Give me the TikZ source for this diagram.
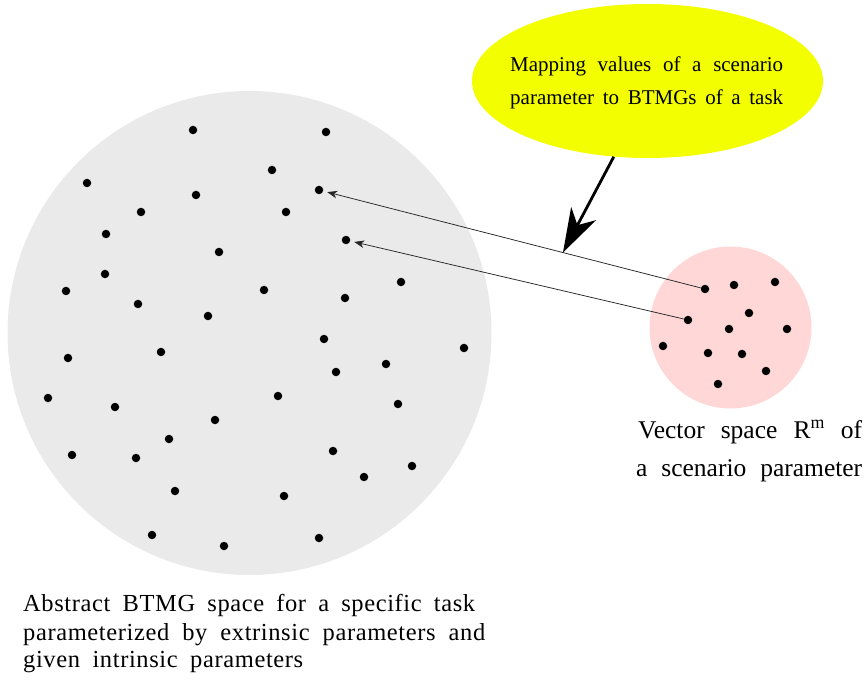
\documentclass[tikz,border=0pt]{standalone}
\usepackage{fontspec}
\setmainfont{Liberation Serif}
\usetikzlibrary{shapes.geometric,arrows.meta}
\definecolor{spacegray}{RGB}{234,234,234}
\definecolor{vecpink}{RGB}{255,215,215}
\definecolor{noteyellow}{RGB}{243,255,0}
\begin{document}
\begin{tikzpicture}[x=1pt,y=-1pt,
  dot/.style={circle, fill=black, inner sep=0pt, minimum size=8.5pt},
  region/.style={circle, inner sep=0pt, draw=none},
  maparrow/.style={-{Stealth[length=10pt,width=7.5pt,inset=3pt]}, line width=0.75pt,
    draw=black!85, shorten >=4pt},
  bigarrow/.style={-{Stealth[length=44pt,width=28pt,inset=13pt]}, line width=2.8pt},
  caption/.style={anchor=base west, inner sep=0pt,
    font=\fontsize{24.5}{29}\selectfont\addfontfeatures{LetterSpace=2.5}},
  sidecaption/.style={anchor=base west, inner sep=0pt, font=\fontsize{25.5}{30}\selectfont},
  notetext/.style={anchor=base west, inner sep=0pt, font=\fontsize{21}{26}\selectfont},
  ]
\useasboundingbox (0,0) rectangle (867,684);

% the two spaces and the note bubble
\node[region, fill=spacegray, minimum size=484pt] (btmg) at (249.5,333) {};
\node[region, fill=vecpink, minimum size=162pt] (vec) at (730.5,327.5) {};
\node[ellipse, fill=noteyellow, inner sep=0pt, minimum width=351pt, minimum height=154pt] (bubble) at (647.5,81) {};

% points of the BTMG space
\foreach \px/\py [count=\i] in {
  193/130, 326/132, 272/170, 87/183, 196/195, 319/190, 141/212, 286/212,
  106/234, 346/240, 219/252, 105/274, 66/291, 401/282, 264/290, 345/298,
  138/304, 208/316, 324/339, 464/348, 68/358, 161/352, 386/364, 336/372,
  48/398, 278/396, 398/404, 115/407, 215/420, 169/439, 72/455, 136/458,
  333/451, 412/466, 364/477, 175/491, 284/496, 152/535, 224/546, 319/538}
  \node[dot] (b\i) at (\px,\py) {};

% points of the vector space
\foreach \px/\py [count=\i] in {
  705/289, 734/285, 775/282, 749/313, 688/320, 729/329, 787/329, 663/346,
  708/353, 742/354, 766/371, 718/384}
  \node[dot] (v\i) at (\px,\py) {};

% mapping connectors
\draw[maparrow] (v1) -- (b6) coordinate[pos=0.365] (hit);
\draw[maparrow] (v5) -- (b10);

% note pointer
\draw[bigarrow] (bubble.246) -- (hit);

% note text
\node[notetext] (note1) at (510,72) {\makebox[273pt][s]{Mapping values of a scenario}};
\node[notetext] (note2) at (510,105) {\makebox[273pt][s]{parameter to BTMGs of a task}};

% label of the vector space
\node[sidecaption] (vlab1) at (638,438) {\makebox[224pt][s]{Vector space R\textsuperscript{m} of}};
\node[sidecaption] (vlab2) at (636,476) {\makebox[226pt][s]{a scenario parameter}};

% label of the BTMG space
\node[caption] (blab1) at (23,611) {\makebox[452pt][s]{Abstract BTMG space for a specific task}};
\node[caption] (blab2) at (23,640) {\makebox[462pt][s]{parameterized by extrinsic parameters and}};
\node[caption] (blab3) at (23,667) {\makebox[280pt][s]{given intrinsic parameters}};
\end{tikzpicture}
\end{document}
